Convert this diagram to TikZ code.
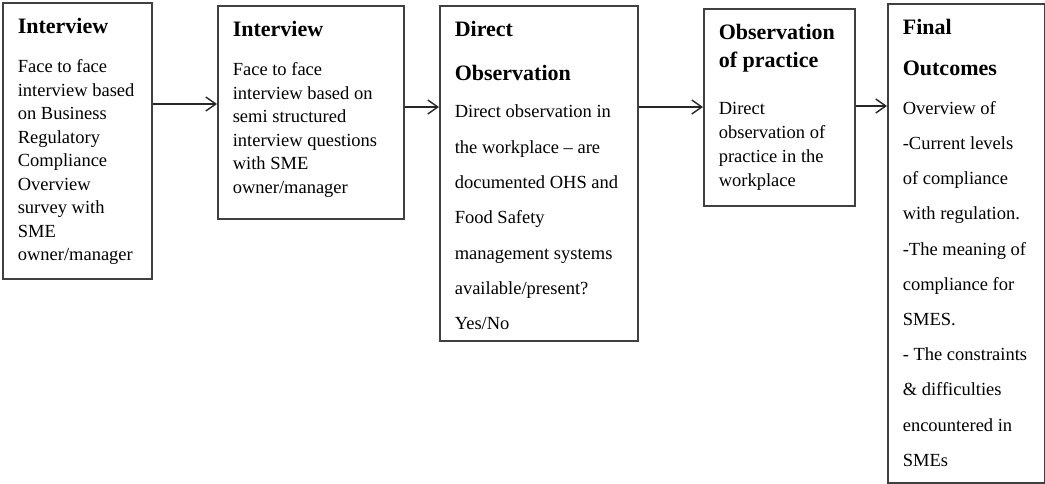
\documentclass[tikz,border=0pt]{standalone}
\usepackage{fontspec}
\setmainfont{Liberation Serif}
\usetikzlibrary{arrows.meta}

\begin{document}
\begin{tikzpicture}[x=1pt,y=-1pt,
  stage/.style={draw=black!75,line width=1.6pt,anchor=north west,inner xsep=15pt,inner ysep=15.5pt},
  flow/.style={-{Straight Barb[length=10pt,width=14pt]},line width=1.4pt,black!85}]
\useasboundingbox (0,0) rectangle (1045,484);
% the five stages
\node[stage] (interview1) at (2,2) {\parbox[t][245pt][t]{119pt}{%
  {\fontsize{22}{26}\bfseries Interview\par}\vspace{15.5pt}
  {\fontsize{18.5}{23.5}\selectfont Face to face\\interview based\\on Business\\Regulatory\\Compliance\\Overview\\survey with\\SME\\owner/manager\par}}};
\node[stage] (interview2) at (217,5) {\parbox[t][182pt][t]{156pt}{%
  {\fontsize{22}{26}\bfseries Interview\par}\vspace{15.5pt}
  {\fontsize{18.5}{23.5}\selectfont Face to face\\interview based on\\semi structured\\interview questions\\with SME\\owner/manager\par}}};
\node[stage] (observation) at (439,5) {\parbox[t][304pt][t]{168pt}{%
  {\fontsize{22}{44}\bfseries Direct\\Observation\par}\vspace{2pt}
  {\fontsize{18.5}{35.3}\selectfont Direct observation in\\the workplace – are\\documented OHS and\\Food Safety\\management systems\\available/present?\\Yes/No\par}}};
\node[stage] (practice) at (703,8) {\parbox[t][166pt][t]{121pt}{%
  {\fontsize{22}{28}\bfseries Observation\\of practice\par}\vspace{23pt}
  {\fontsize{18.5}{24}\selectfont Direct\\observation of\\practice in the\\workplace\par}}};
\node[stage] (outcomes) at (887,3) {\parbox[t][448pt][t]{127pt}{%
  {\fontsize{22}{41}\bfseries Final\\Outcomes\par}\vspace{3.6pt}
  {\fontsize{18.5}{35.2}\selectfont Overview of\\-Current levels\\of compliance\\with regulation.\\-The meaning of\\compliance for\\SMES.\\- The constraints\\\& difficulties\\encountered in\\SMEs\par}}};
% arrows between the stages
\path ([yshift=-102pt]interview1.north east) coordinate (a1);
\path ([yshift=-102pt]interview2.north east) coordinate (a2);
\path ([yshift=-102pt]observation.north east) coordinate (a3);
\path ([yshift=-98pt]practice.north east) coordinate (a4);
\draw[flow] (a1) -- (a1 -| interview2.west);
\draw[flow] (a2) -- (a2 -| observation.west);
\draw[flow] (a3) -- (a3 -| practice.west);
\draw[flow] (a4) -- (a4 -| outcomes.west);
\end{tikzpicture}
\end{document}
